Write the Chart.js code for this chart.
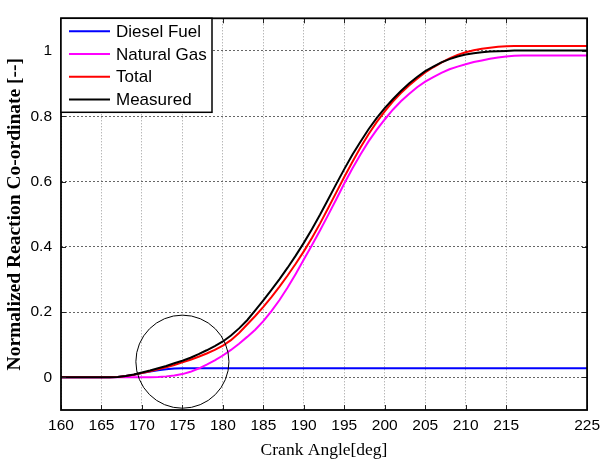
<!DOCTYPE html>
<html>
<head>
<meta charset="utf-8">
<script src="https://cdn.jsdelivr.net/npm/chart.js@4.4.1/dist/chart.umd.min.js"></script>
<style>
  html, body { margin: 0; padding: 0; background: #fff; }
</style>
</head>
<body>
<canvas id="reactionChart" width="606" height="462"></canvas>
<script>
// crank angle samples (deg)
const ANGLES = [160,161,162,163,164,165,166,167,168,169,170,171,172,173,174,175,176,177,178,179,
  180,181,182,183,184,185,186,187,188,189,190,191,192,193,194,195,196,197,198,199,
  200,201,202,203,204,205,206,207,208,209,210,211,212,213,214,215,216,217,218,219,
  220,221,222,223,224,225];

const DIESEL = [0,0,0,0,0,0,0,0.001,0.004,0.008,0.013,0.018,0.022,0.025,0.027,0.028,0.028,0.028,0.028,0.028,
  0.028,0.028,0.028,0.028,0.028,0.028,0.028,0.028,0.028,0.028,0.028,0.028,0.028,0.028,0.028,0.028,0.028,0.028,0.028,0.028,
  0.028,0.028,0.028,0.028,0.028,0.028,0.028,0.028,0.028,0.028,0.028,0.028,0.028,0.028,0.028,0.028,0.028,0.028,0.028,0.028,
  0.028,0.028,0.028,0.028,0.028,0.028];

const NATGAS = [0,0,0,0,0,0,0,0,0,0,0,0,0.001,0.003,0.006,0.010,0.017,0.027,0.039,0.052,
  0.067,0.084,0.103,0.124,0.146,0.172,0.203,0.237,0.275,0.317,0.361,0.405,0.450,0.497,0.545,0.594,0.640,0.683,0.723,0.758,
  0.790,0.820,0.846,0.868,0.889,0.906,0.920,0.933,0.944,0.952,0.959,0.966,0.971,0.976,0.980,0.983,0.985,0.986,0.986,0.986,
  0.986,0.986,0.986,0.986,0.986,0.986];

const TOTAL = [0,0,0,0,0,0,0,0.001,0.004,0.008,0.013,0.019,0.025,0.031,0.038,0.046,0.054,0.063,0.073,0.084,
  0.097,0.114,0.136,0.162,0.188,0.216,0.246,0.278,0.312,0.348,0.386,0.427,0.471,0.518,0.566,0.614,0.660,0.704,0.745,0.782,
  0.815,0.845,0.871,0.894,0.915,0.934,0.950,0.964,0.977,0.988,0.996,1.002,1.007,1.010,1.013,1.014,1.015,1.015,1.015,1.015,
  1.015,1.015,1.015,1.015,1.015,1.015];

const MEASURED = [0,0,0,0,0,0,0,0.001,0.004,0.009,0.015,0.021,0.028,0.035,0.043,0.051,0.060,0.071,0.083,0.096,
  0.110,0.128,0.150,0.175,0.205,0.236,0.268,0.301,0.336,0.373,0.412,0.454,0.498,0.545,0.592,0.638,0.682,0.722,0.760,0.794,
  0.825,0.852,0.877,0.900,0.920,0.938,0.952,0.965,0.975,0.983,0.989,0.993,0.996,0.998,0.999,1.000,1.001,1.001,1.001,1.001,
  1.001,1.001,1.001,1.001,1.001,1.001];

const SERIES_LABELS = ['Diesel Fuel', 'Natural Gas', 'Total', 'Measured'];
const SERIES_COLORS = ['#0000ff', '#ff00ff', '#ff0000', '#000000'];

const X_TICKS = [160, 165, 170, 175, 180, 185, 190, 195, 200, 205, 210, 215, 225];
const Y_TICKS = [0, 0.2, 0.4, 0.6, 0.8, 1];

// highlighted region (angle, value, radius in deg)
const CIRCLE = [175, 0.048, 5.75];

const TICK_FONT = { family: 'Arial, "Liberation Sans", sans-serif', size: 15.5 };

function toPoints(arr) {
  return ANGLES.map((a, i) => ({ x: a, y: arr[i] }));
}

const seriesData = [DIESEL, NATGAS, TOTAL, MEASURED];
const datasets = seriesData.map((arr, i) => ({
  label: SERIES_LABELS[i],
  data: toPoints(arr),
  borderColor: SERIES_COLORS[i],
  backgroundColor: SERIES_COLORS[i],
  borderWidth: 2,
  pointRadius: 0,
  tension: 0,
  fill: false,
  order: 3 - i,
}));

const framePlugin = {
  id: 'frame',
  afterDatasetsDraw(chart) {
    const { ctx, chartArea: a, scales } = chart;
    ctx.save();
    // circle annotation
    const cx = scales.x.getPixelForValue(CIRCLE[0]);
    const cy = scales.y.getPixelForValue(CIRCLE[1]);
    const r = scales.x.getPixelForValue(CIRCLE[0] + CIRCLE[2]) - cx;
    ctx.strokeStyle = '#000';
    ctx.lineWidth = 1;
    ctx.beginPath();
    ctx.arc(cx, cy, r, 0, Math.PI * 2);
    ctx.stroke();

    // inward tick marks
    ctx.strokeStyle = '#222';
    ctx.lineWidth = 1;
    X_TICKS.forEach(v => {
      const x = Math.round(scales.x.getPixelForValue(v)) + 0.5;
      ctx.beginPath();
      ctx.moveTo(x, a.bottom); ctx.lineTo(x, a.bottom - 5);
      ctx.moveTo(x, a.top); ctx.lineTo(x, a.top + 5);
      ctx.stroke();
    });
    Y_TICKS.forEach(v => {
      const y = Math.round(scales.y.getPixelForValue(v)) + 0.5;
      ctx.beginPath();
      ctx.moveTo(a.left, y); ctx.lineTo(a.left + 5, y);
      ctx.moveTo(a.right, y); ctx.lineTo(a.right - 5, y);
      ctx.stroke();
    });

    // axes box
    ctx.strokeStyle = '#000';
    ctx.lineWidth = 1.8;
    ctx.strokeRect(a.left, a.top, a.right - a.left, a.bottom - a.top);
    ctx.restore();
  },
  afterDraw(chart) {
    const { ctx, chartArea: a } = chart;
    const w = 151, h = 94;
    ctx.save();
    ctx.fillStyle = '#fff';
    ctx.fillRect(a.left, a.top, w, h);
    ctx.strokeStyle = '#000';
    ctx.lineWidth = 1.5;
    ctx.strokeRect(a.left, a.top, w, h);
    ctx.font = '17px Arial, "Liberation Sans", sans-serif';
    ctx.textBaseline = 'middle';
    ctx.textAlign = 'left';
    chart.data.datasets.forEach((ds, i) => {
      const y = a.top + 13 + i * 22.7;
      ctx.strokeStyle = ds.borderColor;
      ctx.lineWidth = 2;
      ctx.beginPath();
      ctx.moveTo(a.left + 8, y);
      ctx.lineTo(a.left + 49, y);
      ctx.stroke();
      ctx.fillStyle = '#000';
      ctx.fillText(ds.label, a.left + 55, y + 1);
    });
    ctx.restore();
  }
};

new Chart(document.getElementById('reactionChart'), {
  type: 'line',
  data: { datasets },
  plugins: [framePlugin],
  options: {
    responsive: false,
    animation: false,
    layout: { padding: { left: 0, right: 16, top: 6, bottom: 0 } },
    plugins: {
      legend: { display: false },
      tooltip: { enabled: false },
    },
    scales: {
      x: {
        type: 'linear',
        min: 160,
        max: 225,
        afterBuildTicks(scale) { scale.ticks = X_TICKS.map(v => ({ value: v })); },
        afterFit(scale) { scale.height = 52; },
        ticks: { font: TICK_FONT, color: '#000', padding: 6, maxRotation: 0, autoSkip: false },
        grid: { color: '#9a9a9a', lineWidth: 1, drawTicks: false },
        border: { display: false, dash: [1, 2] },
        title: {
          display: true,
          text: 'Crank Angle[deg]',
          color: '#000',
          font: { family: '"Liberation Serif", "Times New Roman", serif', size: 17.5 },
          padding: 1,
        },
      },
      y: {
        min: -0.1,
        max: 1.1,
        afterBuildTicks(scale) { scale.ticks = Y_TICKS.map(v => ({ value: v })); },
        afterFit(scale) { scale.width = 61; },
        ticks: { font: TICK_FONT, color: '#000', padding: 9, callback: v => String(v) },
        grid: { color: '#666', lineWidth: 1, drawTicks: false },
        border: { display: false, dash: [2, 2] },
        title: {
          display: true,
          text: 'Normalized Reaction Co-ordinate [--]',
          color: '#000',
          font: { family: '"Liberation Serif", "Times New Roman", serif', size: 19.5, weight: 'bold' },
          padding: 3,
        },
      },
    },
  },
});
</script>
</body>
</html>
